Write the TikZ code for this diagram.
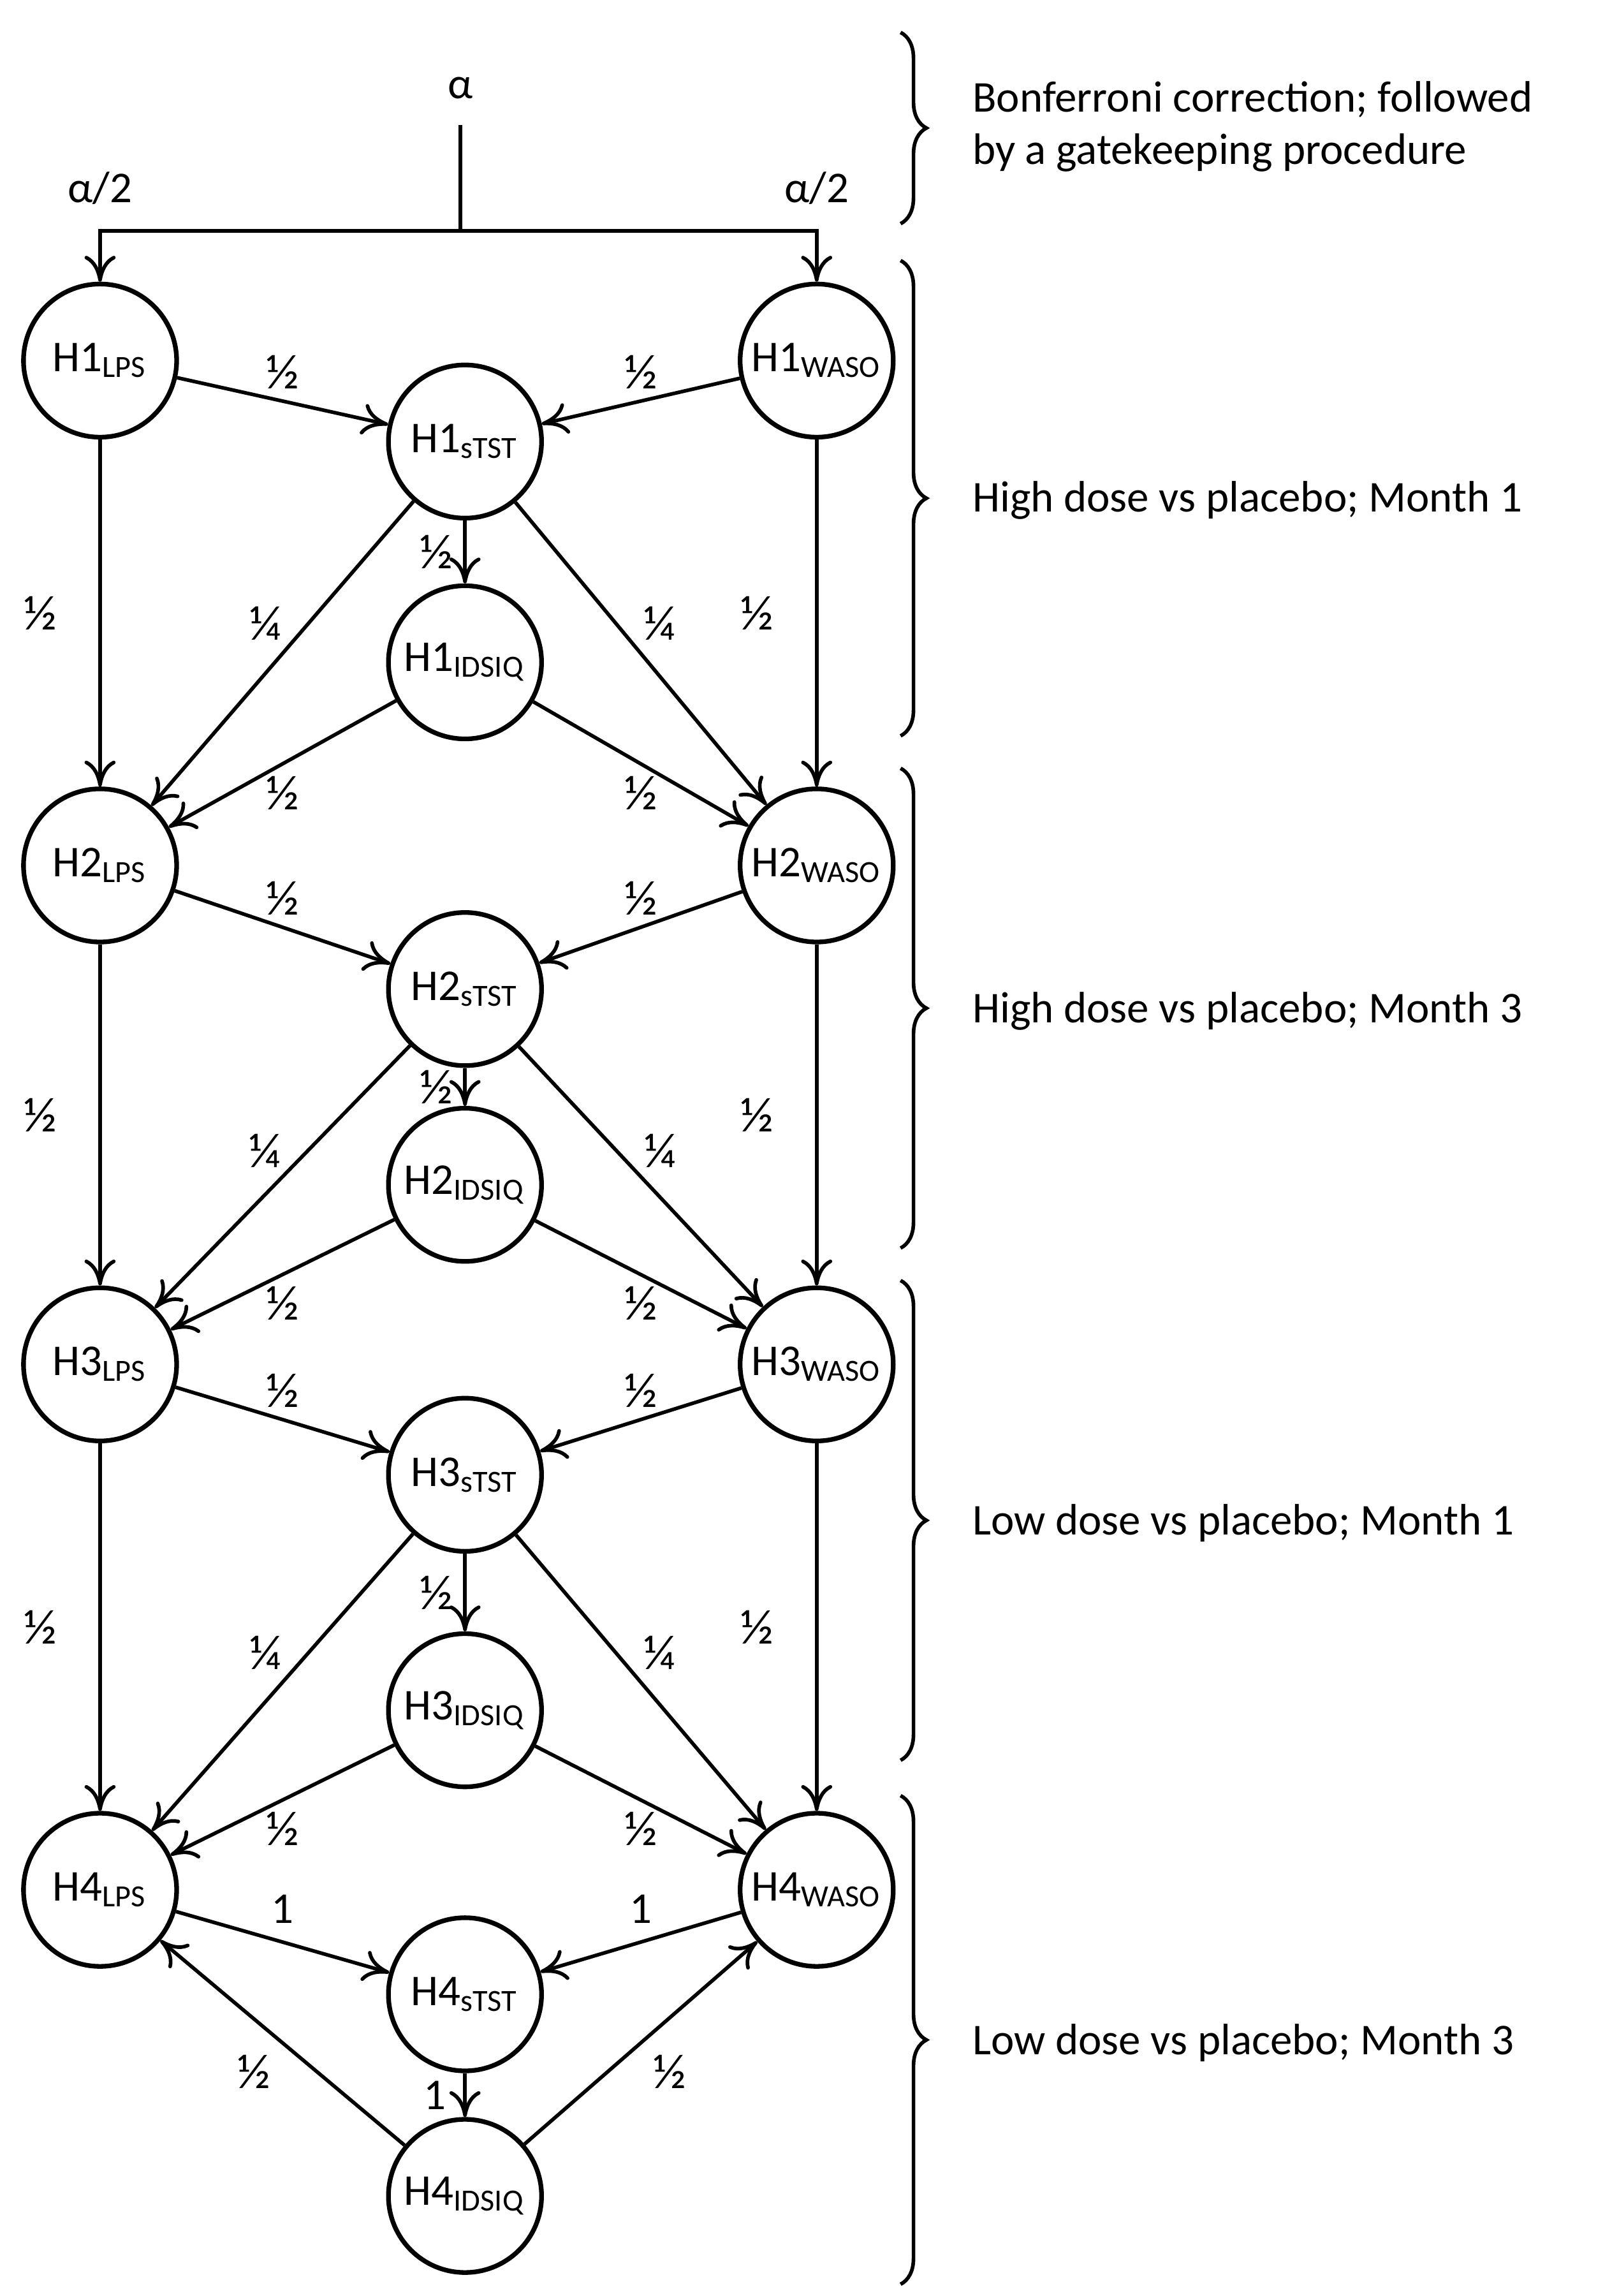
\documentclass[tikz,border=0pt]{standalone}
\usepackage{fontspec}
\setmainfont{Carlito}
\usetikzlibrary{arrows.meta,decorations.pathreplacing}

\begin{document}
\begin{tikzpicture}[x=0.01cm, y=-0.01cm, >={To[length=5pt,width=6pt]}, line width=0.7pt,
  font=\fontsize{8.5pt}{10pt}\selectfont,
  hyp/.style={circle, draw, line width=0.9pt, minimum size=1.04cm, inner sep=0pt},
  frac/.style={font=\fontsize{9.5pt}{10pt}\selectfont, inner sep=2pt},
  gbrace/.style={decorate, decoration={brace, amplitude=5pt}, line width=0.7pt},
  glabel/.style={anchor=west, align=left}]

  \useasboundingbox (0,0) rectangle (1100,1560);

  % Define nodes
  \foreach \k/\ys/\yst/\yid in {1/245/300/450, 2/588/672/805, 3/927/1002/1162, 4/1284/1355/1492} {
    \node[hyp] (lps\k) at (68,\ys) {H\k\textsubscript{LPS}};
    \node[hyp] (waso\k) at (555,\ys) {H\k\textsubscript{WASO}};
    \node[hyp] (stst\k) at (316,\yst) {H\k\textsubscript{sTST}};
    \node[hyp] (idsiq\k) at (316,\yid) {H\k\textsubscript{IDSIQ}};
  }

  % Alpha split
  \node (alpha) at (313,60) {α};
  \coordinate (split) at (313,157);
  \draw (313,85) -- (split);
  \draw[->] (split) -| (lps1);
  \draw[->] (split) -| (waso1);
  \node at (68,128) {α/2};
  \node at (555,128) {α/2};

  % Define edges, levels 1 to 3
  \foreach \k [evaluate=\k as \n using int(\k+1)] in {1,2,3} {
    \path[->]
      (lps\k) edge node[frac, above] {½} (stst\k)
      (waso\k) edge node[frac, above] {½} (stst\k)
      (stst\k) edge node[frac, left] {½} (idsiq\k)
      (stst\k) edge node[frac, pos=0.4, left=3pt] {¼} (lps\n)
      (stst\k) edge node[frac, pos=0.4, right=3pt] {¼} (waso\n)
      (idsiq\k) edge node[frac, below] {½} (lps\n)
      (idsiq\k) edge node[frac, below] {½} (waso\n)
      (lps\k) edge node[frac, left=6pt] {½} (lps\n)
      (waso\k) edge node[frac, left=6pt] {½} (waso\n);
  }

  % Last level
  \path[->]
    (lps4) edge node[above] {1} (stst4)
    (waso4) edge node[above] {1} (stst4)
    (stst4) edge node[left] {1} (idsiq4)
    (idsiq4) edge node[frac, below left] {½} (lps4)
    (idsiq4) edge node[frac, below right] {½} (waso4);

  % Braces
  \draw[gbrace] (612,22) -- (612,152);
  \draw[gbrace] (612,177) -- (612,500);
  \draw[gbrace] (612,522) -- (612,848);
  \draw[gbrace] (612,870) -- (612,1196);
  \draw[gbrace] (612,1220) -- (612,1552);
  \node[glabel] at (648,86) {Bonferroni correction; followed\\by a gatekeeping procedure};
  \node[glabel] at (648,340) {High dose vs placebo; Month 1};
  \node[glabel] at (648,687) {High dose vs placebo; Month 3};
  \node[glabel] at (648,1035) {Low dose vs placebo; Month 1};
  \node[glabel] at (648,1388) {Low dose vs placebo; Month 3};
\end{tikzpicture}
\end{document}
